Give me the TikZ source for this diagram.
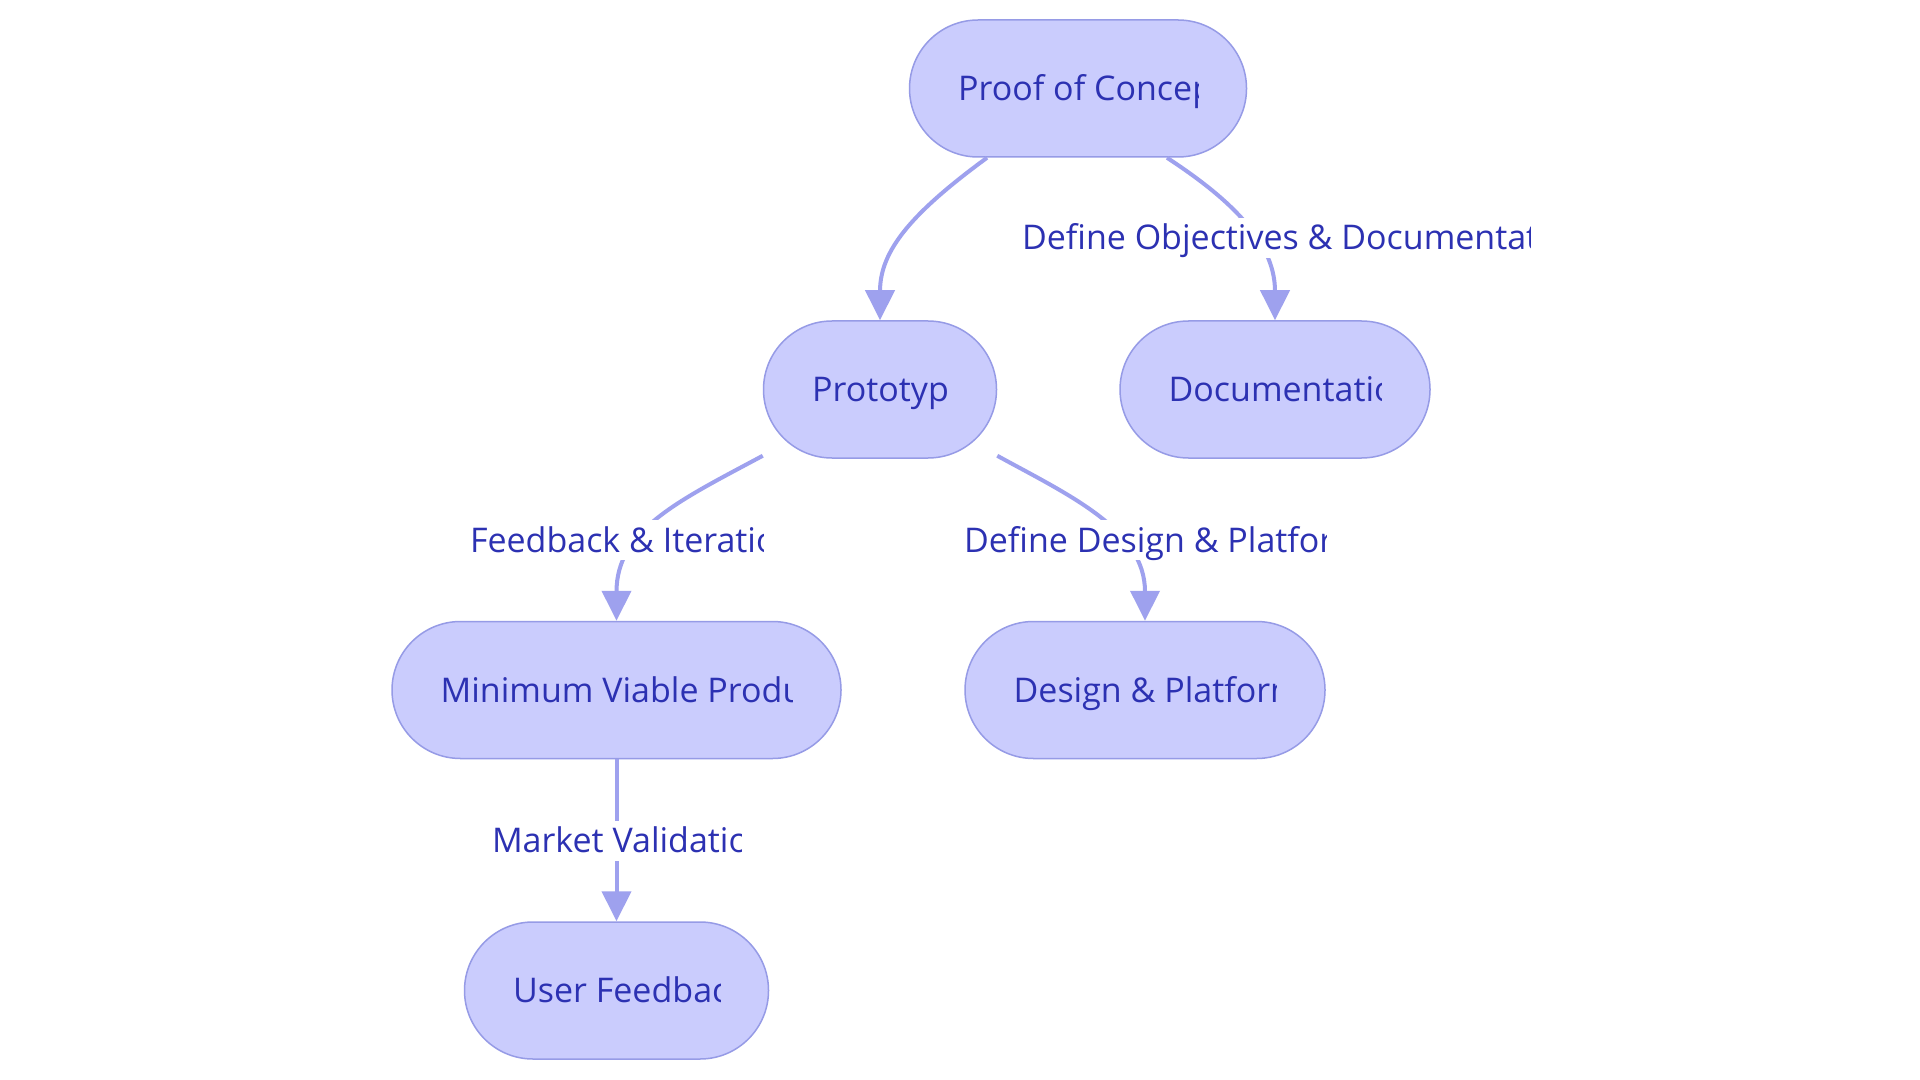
\documentclass[tikz,border=0pt]{standalone}
\usepackage{fontspec}
\setmainfont{Open Sans}
\usetikzlibrary{arrows.meta,calc}
\definecolor{nodefill}{RGB}{202,204,253}
\definecolor{nodeborder}{RGB}{150,155,230}
\definecolor{edgecol}{RGB}{158,161,238}
\definecolor{txtcol}{RGB}{44,49,178}
\tikzset{
  stad/.style={draw=nodeborder, fill=nodefill, line width=0.75pt, rounded corners=34.25pt, minimum height=68.5pt, inner sep=0pt},
  ntext/.style={text=txtcol, inner sep=0pt, font=\fontsize{17}{20}\selectfont},
  edge/.style={draw=edgecol, line width=2pt, -{Triangle[length=15pt,width=14.5pt]}},
  lblbox/.style={fill=white, inner sep=0pt, minimum height=20pt}
}
\newcommand\stadtext[2]{%
  \begin{scope}
    \clip ($(#1.south west)+(49,0)$) rectangle ($(#1.north east)+(-49,0)$);
    \node[ntext, anchor=base west] (#1-t) at ($(#1.west)+(49,12)$) {#2};
  \end{scope}}
\newcommand\lbltext[2]{%
  \begin{scope}
    \clip (#1.south west) rectangle (#1.north east);
    \node[ntext, anchor=base west] (#1-t) at ($(#1.west)+(0,12)$) {#2};
  \end{scope}}
\begin{document}
\begin{tikzpicture}[x=0.5pt,y=-0.5pt]
\useasboundingbox[fill=white] (0,0) rectangle (1920,1080);
% nodes
\node[stad, minimum width=168.5pt] (poc) at (1078,88.5) {};
\node[stad, minimum width=116.5pt] (proto) at (880,389.5) {};
\node[stad, minimum width=155pt] (doc) at (1275,389.5) {};
\node[stad, minimum width=224.5pt] (mvp) at (616.5,690) {};
\node[stad, minimum width=180pt] (design) at (1145,690) {};
\node[stad, minimum width=152pt] (uf) at (616.5,990.5) {};
\stadtext{poc}{Proof of Concept}
\stadtext{proto}{Prototype}
\stadtext{doc}{Documentation}
\stadtext{mvp}{Minimum Viable Product}
\stadtext{design}{Design \& Platform}
\stadtext{uf}{User Feedback}
% edges
\draw[edge] ($(poc.south)+(-91,0)$) .. controls +(-75,55) and +(0,-70) .. (proto.north);
\draw[edge] ($(poc.south)+(89,0)$) .. controls +(58,38) and +(0,-81) .. (doc.north);
\draw[edge] ($(proto.south west)+(0,-3)$) .. controls +(-84,45) and +(0,-91) .. (mvp.north);
\draw[edge] ($(proto.south east)+(0,-3)$) .. controls +(73,40) and +(0,-91) .. (design.north);
\draw[edge] (mvp.south) -- (uf.north);
% labels
\node[lblbox, minimum width=254pt] (l1) at (1276,238) {};
\lbltext{l1}{Define Objectives \& Documentation}
\node[lblbox, minimum width=146.5pt] (l2) at (616.5,540) {};
\lbltext{l2}{Feedback \& Iteration}
\node[lblbox, minimum width=181pt] (l3) at (1145,540) {};
\lbltext{l3}{Define Design \& Platform}
\node[lblbox, minimum width=124.5pt] (l4) at (616.5,840.5) {};
\lbltext{l4}{Market Validation}
\end{tikzpicture}
\end{document}
